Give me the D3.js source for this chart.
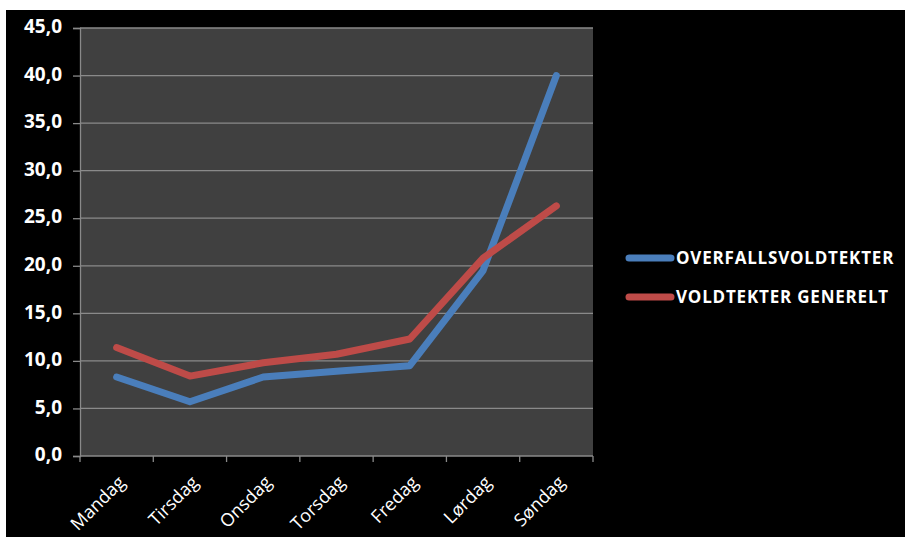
<!DOCTYPE html>
<html>
<head>
<meta charset="utf-8">
<script src="https://cdn.jsdelivr.net/npm/d3@7"></script>
<style>
  html, body { margin: 0; padding: 0; background: #ffffff; }
  svg { display: block; }
</style>
</head>
<body>
<div id="chart"></div>
<script>
// --- data ---
const days = ["Mandag", "Tirsdag", "Onsdag", "Torsdag", "Fredag", "Lørdag", "Søndag"];
const overfall = [8.3, 5.7, 8.3, 8.9, 9.5, 19.5, 40.0];
const generelt = [11.4, 8.4, 9.8, 10.7, 12.3, 20.8, 26.3];
const yTicks = [0, 5, 10, 15, 20, 25, 30, 35, 40, 45];
const seriesNames = ["OVERFALLSVOLDTEKTER", "VOLDTEKTER GENERELT"];

const W = 905, H = 537;
const BLUE = "#4a7ebb", RED = "#be4b48";
const FONT = "'Open Sans', sans-serif";
const plot = { left: 80, right: 593, top: 28, bottom: 456 };

const svg = d3.select("#chart").append("svg")
  .attr("width", W).attr("height", H);

// black panel with white strips on top and left
svg.append("rect").attr("x", 6).attr("y", 10)
  .attr("width", W - 6).attr("height", H - 10).attr("fill", "#000");

const x = d3.scaleBand().domain(days).range([plot.left, plot.right]);
const y = d3.scaleLinear().domain([0, 45]).range([plot.bottom, plot.top]);

svg.append("rect")
  .attr("x", plot.left).attr("y", plot.top)
  .attr("width", plot.right - plot.left).attr("height", plot.bottom - plot.top)
  .attr("fill", "#404040");

// grid
svg.append("g").selectAll("line").data(yTicks.filter(d => d > 0)).join("line")
  .attr("x1", plot.left).attr("x2", plot.right)
  .attr("y1", d => y(d)).attr("y2", d => y(d))
  .attr("stroke", "#8a8a8a").attr("stroke-width", 1.3);

// y axis
const yAxis = svg.append("g").attr("transform", `translate(${plot.left},0)`)
  .call(d3.axisLeft(y).tickValues(yTicks).tickSize(7).tickPadding(11)
    .tickFormat(d => d3.format(".1f")(d).replace(".", ",")));
yAxis.select(".domain").attr("stroke", "#8a8a8a").attr("stroke-width", 1.3);
yAxis.selectAll(".tick line").attr("stroke", "#8a8a8a").attr("stroke-width", 1.3);
yAxis.selectAll("text").attr("fill", "#fff").attr("dy", "0.25em")
  .style("font-family", FONT).style("font-size", "19px").style("font-weight", "bold");

// x axis: ticks at band edges
const edges = days.map(d => x(d)).concat([plot.right]);
const xg = svg.append("g");
xg.append("line").attr("x1", plot.left).attr("x2", plot.right)
  .attr("y1", plot.bottom).attr("y2", plot.bottom)
  .attr("stroke", "#8a8a8a").attr("stroke-width", 1.3);
xg.selectAll(".tk").data(edges).join("line").attr("class", "tk")
  .attr("x1", d => d).attr("x2", d => d)
  .attr("y1", plot.bottom).attr("y2", plot.bottom + 6)
  .attr("stroke", "#8a8a8a").attr("stroke-width", 1.3);
xg.selectAll("text").data(days).join("text")
  .attr("transform", d => `translate(${x(d) + x.bandwidth() / 2 + 5},${plot.bottom + 23}) rotate(-45)`)
  .attr("text-anchor", "end").attr("dy", "0.35em")
  .attr("fill", "#fff")
  .style("font-family", FONT).style("font-size", "18px")
  .text(d => d);

// lines
const line = d3.line().x((d, i) => x(days[i]) + x.bandwidth() / 2).y(d => y(d));
[[overfall, BLUE], [generelt, RED]].forEach(([vals, col]) => {
  svg.append("path").datum(vals).attr("d", line)
    .attr("fill", "none").attr("stroke", col).attr("stroke-width", 7)
    .attr("stroke-linecap", "round").attr("stroke-linejoin", "round");
});

// legend
const lg = svg.append("g");
[BLUE, RED].forEach((col, i) => {
  const ly = 258 + i * 39;
  lg.append("line").attr("x1", 629).attr("x2", 671).attr("y1", ly).attr("y2", ly)
    .attr("stroke", col).attr("stroke-width", 7).attr("stroke-linecap", "round");
  lg.append("text").attr("x", 676).attr("y", ly).attr("dy", "0.36em")
    .attr("fill", "#fff")
    .style("font-family", FONT).style("font-size", "17px").style("font-weight", "bold")
    .style("letter-spacing", "0.8px")
    .text(seriesNames[i]);
});
</script>
</body>
</html>
